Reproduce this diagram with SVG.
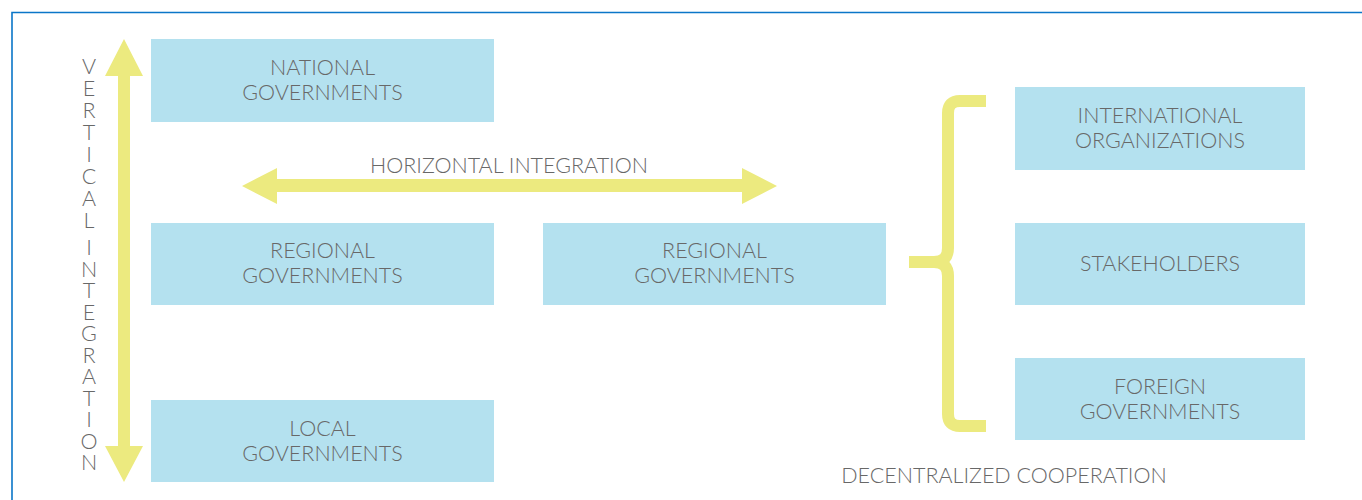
<svg xmlns="http://www.w3.org/2000/svg" width="1362" height="500" viewBox="0 0 1362 500">
<style>
.box{fill:#b4e1ef}
.t{font-family:Lato,"Open Sans","Liberation Sans",sans-serif;font-size:21.5px;fill:#686868;font-weight:300;text-anchor:middle}
.y{fill:#ecea7f}
.ys{fill:none;stroke:#ecea7f;stroke-width:12;stroke-linecap:butt}
</style>
<rect width="1362" height="500" fill="#ffffff"/>
<path d="M12 500 V12.5 H1362" fill="none" stroke="#0a76c8" stroke-width="1.6"/>
<g id="connectors">
  <polygon class="y" points="124,39 143,76 130,76 130,446 143,446 124,482 105,446 118,446 118,76 105,76"/>
  <polygon class="y" points="242,186 277,168 277,179 742,179 742,168 777,186 742,204 742,192 277,192 277,204"/>
  <path class="ys" d="M986 101 H960 Q948 101 948 113 V248 Q948 262 934 262 H909"/>
  <path class="ys" d="M909 262 H934 Q948 262 948 276 V414 Q948 426 960 426 H986"/>
</g>
<g id="label-vertical">
  <text class="t" x="89"><tspan x="89" y="74">V</tspan><tspan x="89" y="96">E</tspan><tspan x="89" y="118">R</tspan><tspan x="89" y="140">T</tspan><tspan x="89" y="162">I</tspan><tspan x="89" y="184">C</tspan><tspan x="89" y="206">A</tspan><tspan x="89" y="228">L</tspan><tspan x="89" y="255">I</tspan><tspan x="89" y="276.5">N</tspan><tspan x="89" y="298">T</tspan><tspan x="89" y="319.5">E</tspan><tspan x="89" y="341">G</tspan><tspan x="89" y="362.5">R</tspan><tspan x="89" y="384">A</tspan><tspan x="89" y="405.5">T</tspan><tspan x="89" y="427">I</tspan><tspan x="89" y="448.5">O</tspan><tspan x="89" y="470">N</tspan></text>
</g>
<g id="label-horizontal"><text class="t" x="509" y="172.5">HORIZONTAL INTEGRATION</text></g>
<g id="label-decentralized"><text class="t" x="1004" y="482.5">DECENTRALIZED COOPERATION</text></g>
<g id="national"><rect class="box" x="151" y="39" width="343" height="83"/><text class="t" x="322.5" y="74.5">NATIONAL</text><text class="t" x="322.5" y="99.5">GOVERNMENTS</text></g>
<g id="regional-left"><rect class="box" x="151" y="223" width="343" height="82"/><text class="t" x="322.5" y="257.5">REGIONAL</text><text class="t" x="322.5" y="282.5">GOVERNMENTS</text></g>
<g id="local"><rect class="box" x="151" y="400" width="343" height="82"/><text class="t" x="322.5" y="435.5">LOCAL</text><text class="t" x="322.5" y="460.5">GOVERNMENTS</text></g>
<g id="regional-right"><rect class="box" x="543" y="223" width="343" height="82"/><text class="t" x="714.5" y="257.5">REGIONAL</text><text class="t" x="714.5" y="282.5">GOVERNMENTS</text></g>
<g id="international"><rect class="box" x="1015" y="87" width="290" height="83"/><text class="t" x="1160" y="122.5">INTERNATIONAL</text><text class="t" x="1160" y="147.5">ORGANIZATIONS</text></g>
<g id="stakeholders"><rect class="box" x="1015" y="223" width="290" height="82"/><text class="t" x="1160" y="270.5">STAKEHOLDERS</text></g>
<g id="foreign"><rect class="box" x="1015" y="358" width="290" height="82"/><text class="t" x="1160" y="393.5">FOREIGN</text><text class="t" x="1160" y="418.5">GOVERNMENTS</text></g>
</svg>
